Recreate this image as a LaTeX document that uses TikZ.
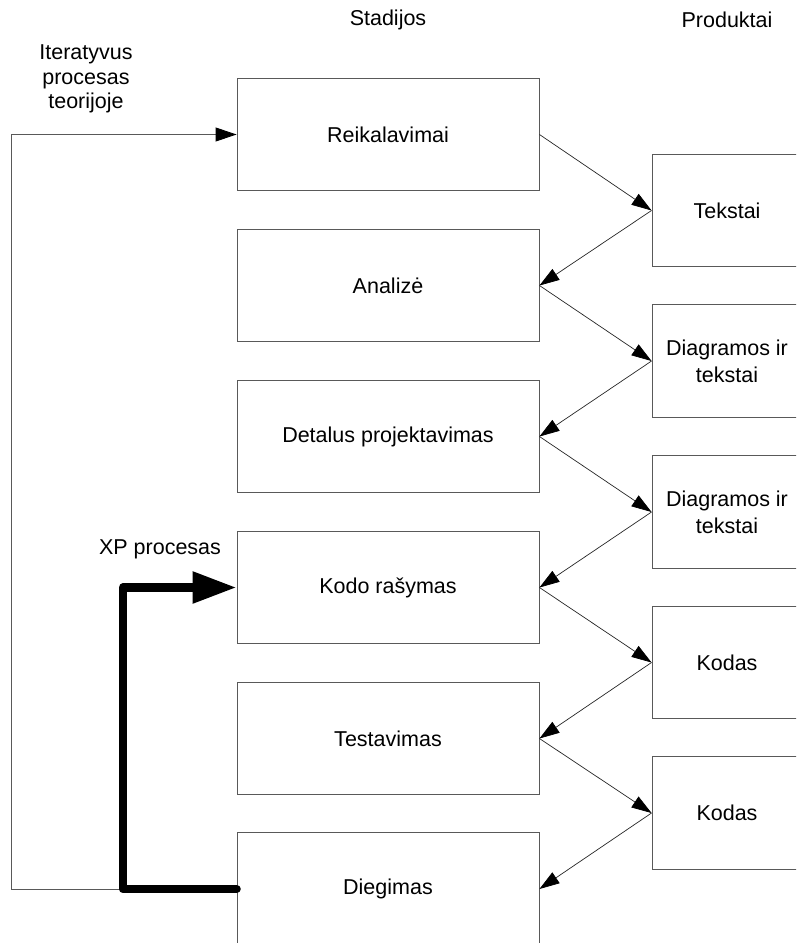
\documentclass[tikz,border=0pt]{standalone}
\usepackage{fontspec}
\setmainfont{Liberation Sans}
\usetikzlibrary{arrows.meta}
\begin{document}
\begin{tikzpicture}[x=1pt,y=-1pt,
  font=\fontsize{21.5}{27}\selectfont,
  stage/.style={draw=black!65,line width=0.9pt,minimum width=302pt,minimum height=112.5pt,inner sep=0pt,align=center},
  product/.style={draw=black!65,line width=0.9pt,minimum width=150pt,minimum height=112.5pt,inner sep=0pt,align=center},
  flow/.style={draw=black!85,line width=0.7pt,-{Triangle[length=20pt,width=13pt,color=black]}},
  loop/.style={draw=black!65,line width=0.9pt,-{Triangle[length=21pt,width=14pt,color=black]}},
  xp/.style={draw=black,line width=8.5pt,line join=round,line cap=round,-{Triangle[length=44pt,width=30pt]}},
  caption/.style={align=center,inner sep=0pt}]
\useasboundingbox (0,0) rectangle (796,943);
\clip (0,0) rectangle (796,943);

% column headings
\node[caption] (hstage) at (388,20) {Stadijos};
\node[caption] (hprod) at (727,20) {Produktai};

% stages
\node[stage] (s1) at (388,134.5) {Reikalavimai};
\node[stage] (s2) at (388,285.5) {Analizė};
\node[stage] (s3) at (388,436.5) {Detalus projektavimas};
\node[stage] (s4) at (388,587.5) {Kodo rašymas};
\node[stage] (s5) at (388,738.5) {Testavimas};
\node[stage] (s6) at (388,889) {Diegimas};

% products
\node[product] (p1) at (727,210.5) {Tekstai};
\node[product] (p2) at (727,361) {Diagramos ir\\tekstai};
\node[product] (p3) at (727,512) {Diagramos ir\\tekstai};
\node[product] (p4) at (727,662.5) {Kodas};
\node[product] (p5) at (727,813) {Kodas};

% stage -> product -> next stage
\draw[flow] (s1.east) -- (p1.west);
\draw[flow] (p1.west) -- (s2.east);
\draw[flow] (s2.east) -- (p2.west);
\draw[flow] (p2.west) -- (s3.east);
\draw[flow] (s3.east) -- (p3.west);
\draw[flow] (p3.west) -- (s4.east);
\draw[flow] (s4.east) -- (p4.west);
\draw[flow] (p4.west) -- (s5.east);
\draw[flow] (s5.east) -- (p5.west);
\draw[flow] (p5.west) -- (s6.east);

% theoretical iteration loop
\node[caption,font=\fontsize{21.5}{24.5}\selectfont] (iter) at (86,79) {Iteratyvus\\procesas\\teorijoje};
\coordinate (lb) at (11,889);
\coordinate (lt) at (11,134.5);
\draw[loop] (s6.west) -- (lb) -- (lt) -- (s1.west);

% XP loop
\node[caption] (xplabel) at (160,549) {XP procesas};
\coordinate (xb) at (123,889);
\coordinate (xt) at (123,587.5);
\draw[xp] (s6.west) -- (xb) -- (xt) -- (s4.west);
\end{tikzpicture}
\end{document}
